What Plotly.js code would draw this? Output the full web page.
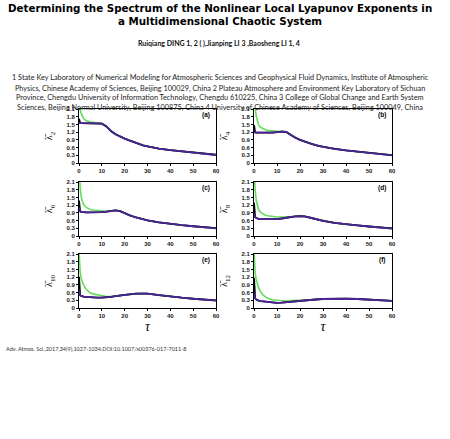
<!DOCTYPE html>
<html>
<head>
<meta charset="utf-8">
<script src="https://cdn.plot.ly/plotly-3.0.1.min.js"></script>
<style>html,body{margin:0;padding:0;background:#fff;}#chart{width:450px;height:439px;}</style>
</head>
<body>
<div id="chart"></div>
<script>
// ---------- data ----------
const tau = [0, 0.25, 0.5, 1, 1.5, 2, 3, 4, 5, 6, 8, 10, 12, 14, 16, 18, 20, 22, 25, 28, 30, 35, 40, 45, 50, 55, 60];

const panelLabels = ["(a)", "(b)", "(c)", "(d)", "(e)", "(f)"];
const yTitles = ["2", "4", "6", "8", "10", "12"];
const xTicks = [0, 10, 20, 30, 40, 50, 60];
const yTicks = [0, 0.3, 0.6, 0.9, 1.2, 1.5, 1.8, 2.1];
const yTickText = ["0", "0.3", "0.6", "0.9", "1.2", "1.5", "1.8", "2.1"];

// panel (a)
const greenA  = [2.6, 2.3, 2.1, 1.92, 1.8, 1.73, 1.65, 1.61, 1.59, 1.58, 1.56, 1.54, 1.43, 1.24, 1.12, 1.02, 0.95, 0.88, 0.78, 0.69, 0.65, 0.56, 0.50, 0.45, 0.40, 0.36, 0.32];
const blackA  = [1.72, 1.58, 1.56, 1.55, 1.55, 1.55, 1.55, 1.55, 1.55, 1.55, 1.55, 1.53, 1.42, 1.24, 1.12, 1.02, 0.95, 0.88, 0.78, 0.69, 0.65, 0.56, 0.50, 0.45, 0.40, 0.36, 0.32];
const purpleA = [1.58, 1.56, 1.55, 1.55, 1.55, 1.55, 1.55, 1.55, 1.55, 1.55, 1.55, 1.53, 1.42, 1.24, 1.12, 1.02, 0.95, 0.88, 0.78, 0.69, 0.65, 0.56, 0.50, 0.45, 0.40, 0.36, 0.31];
// panel (b)
const greenB  = [2.8, 2.4, 2.15, 1.8, 1.6, 1.48, 1.38, 1.32, 1.29, 1.27, 1.24, 1.23, 1.23, 1.21, 1.08, 0.98, 0.90, 0.83, 0.74, 0.67, 0.63, 0.55, 0.49, 0.44, 0.39, 0.35, 0.31];
const blackB  = [1.48, 1.24, 1.19, 1.18, 1.18, 1.18, 1.17, 1.17, 1.17, 1.17, 1.18, 1.20, 1.22, 1.21, 1.08, 0.98, 0.90, 0.83, 0.74, 0.67, 0.63, 0.55, 0.49, 0.44, 0.39, 0.35, 0.31];
const purpleB = [1.25, 1.20, 1.19, 1.18, 1.18, 1.18, 1.17, 1.17, 1.17, 1.17, 1.18, 1.20, 1.22, 1.21, 1.08, 0.98, 0.90, 0.83, 0.74, 0.67, 0.63, 0.55, 0.49, 0.44, 0.39, 0.35, 0.30];
// panel (c)
const greenC  = [2.8, 2.3, 1.9, 1.5, 1.32, 1.22, 1.12, 1.06, 1.03, 1.01, 0.99, 0.97, 0.96, 0.98, 1.00, 0.97, 0.88, 0.81, 0.72, 0.65, 0.61, 0.53, 0.47, 0.42, 0.38, 0.34, 0.31];
const blackC  = [1.38, 1.02, 0.96, 0.94, 0.93, 0.93, 0.92, 0.92, 0.92, 0.92, 0.92, 0.93, 0.95, 0.98, 1.00, 0.97, 0.88, 0.81, 0.72, 0.65, 0.61, 0.53, 0.47, 0.42, 0.38, 0.34, 0.31];
const purpleC = [1.10, 1.00, 0.96, 0.94, 0.93, 0.93, 0.92, 0.92, 0.92, 0.92, 0.92, 0.93, 0.95, 0.98, 1.00, 0.97, 0.88, 0.81, 0.72, 0.65, 0.61, 0.53, 0.47, 0.42, 0.38, 0.34, 0.30];
// panel (d)
const greenD  = [2.8, 2.2, 1.8, 1.38, 1.14, 1.02, 0.91, 0.85, 0.81, 0.79, 0.76, 0.74, 0.74, 0.75, 0.76, 0.77, 0.77, 0.76, 0.70, 0.63, 0.59, 0.51, 0.45, 0.41, 0.37, 0.33, 0.30];
const blackD  = [1.30, 0.80, 0.73, 0.70, 0.68, 0.67, 0.66, 0.66, 0.65, 0.65, 0.65, 0.66, 0.68, 0.71, 0.74, 0.76, 0.77, 0.76, 0.70, 0.63, 0.59, 0.51, 0.45, 0.41, 0.37, 0.33, 0.30];
const purpleD = [0.90, 0.78, 0.73, 0.70, 0.68, 0.67, 0.66, 0.66, 0.65, 0.65, 0.65, 0.66, 0.68, 0.71, 0.74, 0.76, 0.77, 0.76, 0.70, 0.63, 0.59, 0.51, 0.45, 0.41, 0.37, 0.33, 0.29];
// panel (e)
const greenE  = [2.3, 1.7, 1.4, 1.15, 1.0, 0.9, 0.74, 0.64, 0.58, 0.55, 0.51, 0.47, 0.45, 0.45, 0.46, 0.49, 0.51, 0.53, 0.56, 0.57, 0.56, 0.50, 0.44, 0.40, 0.36, 0.33, 0.30];
const blackE  = [1.22, 0.58, 0.50, 0.47, 0.45, 0.44, 0.43, 0.42, 0.42, 0.41, 0.40, 0.40, 0.41, 0.43, 0.46, 0.49, 0.51, 0.53, 0.56, 0.57, 0.56, 0.50, 0.44, 0.40, 0.36, 0.33, 0.30];
const purpleE = [0.70, 0.55, 0.50, 0.47, 0.45, 0.44, 0.43, 0.42, 0.42, 0.41, 0.40, 0.40, 0.41, 0.43, 0.46, 0.49, 0.51, 0.53, 0.56, 0.57, 0.56, 0.50, 0.44, 0.40, 0.36, 0.33, 0.29];
// panel (f)
const greenF  = [2.3, 1.7, 1.35, 1.1, 0.9, 0.78, 0.62, 0.50, 0.43, 0.38, 0.32, 0.29, 0.28, 0.28, 0.29, 0.29, 0.30, 0.31, 0.32, 0.34, 0.35, 0.36, 0.36, 0.35, 0.33, 0.31, 0.28];
const blackF  = [1.18, 0.50, 0.38, 0.33, 0.30, 0.29, 0.27, 0.26, 0.25, 0.24, 0.22, 0.20, 0.21, 0.23, 0.25, 0.27, 0.28, 0.30, 0.32, 0.34, 0.35, 0.36, 0.36, 0.35, 0.33, 0.31, 0.28];
const purpleF = [0.60, 0.45, 0.38, 0.33, 0.30, 0.29, 0.27, 0.26, 0.25, 0.24, 0.22, 0.20, 0.21, 0.23, 0.25, 0.27, 0.28, 0.30, 0.32, 0.34, 0.35, 0.36, 0.36, 0.35, 0.33, 0.31, 0.28];

const greenSeries  = [greenA, greenB, greenC, greenD, greenE, greenF];
const blackSeries  = [blackA, blackB, blackC, blackD, blackE, blackF];
const purpleSeries = [purpleA, purpleB, purpleC, purpleD, purpleE, purpleF];

const titleLine1 = "Determining the Spectrum of the Nonlinear Local Lyapunov Exponents in";
const titleLine2 = "a Multidimensional Chaotic System";
const authors = "Ruiqiang DING 1, 2 ( ),Jianping LI 3 ,Baosheng LI 1, 4";
const affiliations = [
  "1 State Key Laboratory of Numerical Modeling for Atmospheric Sciences and Geophysical Fluid Dynamics, Institute of Atmospheric",
  "Physics, Chinese Academy of Sciences, Beijing 100029, China 2 Plateau Atmosphere and Environment Key Laboratory of Sichuan",
  "Province, Chengdu University of Information Technology, Chengdu 610225, China 3 College of Global Change and Earth System",
  "Sciences, Beijing Normal University, Beijing 100875, China 4 University of Chinese Academy of Sciences, Beijing 100049, China"
];
const citation = "Adv. Atmos. Sci.,2017,34(9),1027-1034.DOI:10.1007/s00376-017-7011-8";

// ---------- layout ----------
const W = 450, H = 439;
const colDom = [[79 / W, 216 / W], [254 / W, 392 / W]];
const rowPix = [[109, 163], [182, 236], [254, 308]];
const rowDom = rowPix.map(r => [1 - r[1] / H, 1 - r[0] / H]);

const GREEN = "#66dd5a", BLACK = "#000000", PURPLE = "#4a2396";
const tickFont = {family: "Liberation Sans, Arial, sans-serif", size: 6, color: "#222", weight: "bold"};

const traces = [];
const layout = {
  width: W, height: H,
  margin: {l: 0, r: 0, t: 0, b: 0},
  paper_bgcolor: "#fff", plot_bgcolor: "#fff",
  showlegend: false,
  annotations: []
};

for (let i = 0; i < 6; i++) {
  const row = Math.floor(i / 2), col = i % 2;
  const n = i === 0 ? "" : String(i + 1);
  const xa = "x" + n, ya = "y" + n;
  traces.push({x: tau, y: greenSeries[i], xaxis: xa, yaxis: ya, type: "scatter", mode: "lines", line: {color: GREEN, width: 1.6}, hoverinfo: "skip"});
  traces.push({x: tau, y: blackSeries[i], xaxis: xa, yaxis: ya, type: "scatter", mode: "lines", line: {color: BLACK, width: 1.8}, hoverinfo: "skip"});
  traces.push({x: tau, y: purpleSeries[i], xaxis: xa, yaxis: ya, type: "scatter", mode: "lines", line: {color: PURPLE, width: 1.8}, hoverinfo: "skip"});

  const xaxis = {
    domain: colDom[col], anchor: ya, range: [0, 60],
    tickvals: xTicks, ticks: "outside", ticklen: 2, tickwidth: 1, tickcolor: "#000",
    showline: true, linecolor: "#000", linewidth: 1, mirror: true,
    showgrid: false, zeroline: false, tickfont: tickFont, fixedrange: true
  };
  if (row === 2) {
    xaxis.title = {text: "<i>τ</i>", font: {family: "Liberation Serif, Times New Roman, serif", size: 14, color: "#000"}, standoff: 0};
  }
  const yaxis = {
    domain: rowDom[row], anchor: xa, range: [0, 2.1],
    tickvals: yTicks, ticktext: yTickText, ticks: "outside", ticklen: 2, tickwidth: 1, tickcolor: "#000",
    showline: true, linecolor: "#000", linewidth: 1, mirror: true,
    showgrid: false, zeroline: false, tickfont: tickFont, fixedrange: true,
    title: {text: "λ\u0304<sub>" + yTitles[i] + "</sub>", font: {family: "Liberation Serif, Times New Roman, serif", size: 10, color: "#000"}, standoff: 11}
  };
  layout["xaxis" + n] = xaxis;
  layout["yaxis" + n] = yaxis;

  layout.annotations.push({
    text: panelLabels[i], xref: xa + " domain", yref: ya + " domain",
    x: 0.97, y: 0.88, xanchor: "right", yanchor: "middle", showarrow: false,
    font: {family: "Liberation Sans, Arial, sans-serif", size: 6.5, color: "#000", weight: "bold"}
  });
}

function addText(text, xPix, yPix, font, anchor) {
  layout.annotations.push({
    text: text, xref: "paper", yref: "paper",
    x: xPix / W, y: 1 - yPix / H, xanchor: anchor || "center", yanchor: "middle",
    showarrow: false, font: font
  });
}
const titleFont = {family: "DejaVu Sans, Verdana, sans-serif", size: 10.3, color: "#000", weight: "bold"};
addText(titleLine1, 220, 7.5, titleFont);
addText(titleLine2, 220, 21, titleFont);
addText(authors, 219, 43, {family: "Lato, Liberation Sans, sans-serif", size: 7, color: "#111", weight: "bold"});
const affYs = [77.7, 88, 97.7, 107.3];
affiliations.forEach((t, k) => addText(t, 220, affYs[k], {family: "Lato, Liberation Sans, sans-serif", size: 7.3, color: "#222"}));
addText(citation, 4, 349, {family: "Lato, Liberation Sans, sans-serif", size: 5.5, color: "#333"}, "left");

Plotly.newPlot("chart", traces, layout, {staticPlot: true, displayModeBar: false});
</script>
</body>
</html>
